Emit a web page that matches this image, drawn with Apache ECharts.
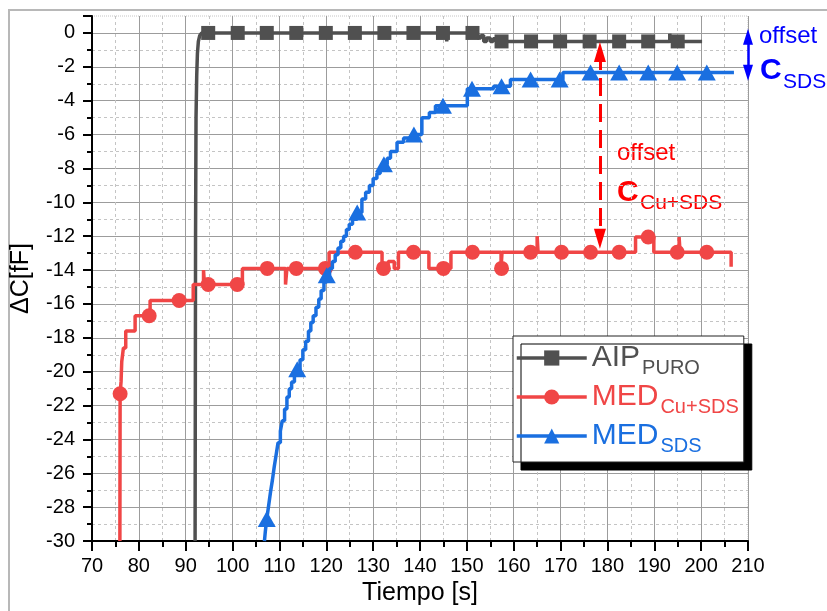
<!DOCTYPE html>
<html><head><meta charset="utf-8">
<script src="https://cdn.jsdelivr.net/npm/echarts@6/dist/echarts.min.js"></script>
<style>html,body{margin:0;padding:0;background:#fff}#c{width:827px;height:611px}</style>
</head><body><div id="c"></div>
<script>
// ---- axes ----
const xMin = 70, xMax = 210, xStep = 10;
const yMin = -30, yMax = 1, yStep = 2;
const xName = 'Tiempo [s]';
const yName = 'ΔC[fF]';

// ---- series: AIP PURO (gray) ----
const aipCurve = [[92.0,-30],[92.1,-12],[92.2,-5],[92.35,-2.5],[92.5,-1.2],[92.7,-0.5],[93.0,-0.15],[93.4,0],
  [145.7,-0.5],[145.9,0],[150.5,-0.2],[151.8,0],[152.3,-0.3],[153.0,-0.15],[153.6,-0.5],[154.2,-0.3],
  [155.0,-0.5],[155.6,-0.35],[156.2,-0.5],[193.3,-0.05],[193.5,-0.5],[200.2,-0.5]];
const aipMarks = [[94.8,0],[101.1,0],[107.3,0],[113.6,0],[119.9,0],[126.1,0],[132.4,0],[138.6,0],[144.9,0],
  [151.2,0],[157.4,-0.5],[163.7,-0.5],[169.9,-0.5],[176.2,-0.5],[182.5,-0.5],[188.7,-0.5],[195.0,-0.5]];

// ---- series: MED Cu+SDS (red) ----
const cuCurve = [[75.95,-30],[76.0,-21.3],[76.2,-20.6],[76.35,-19.4],[76.7,-18.6],[77.2,-17.6],[79.2,-16.7],
  [82.4,-15.8],[91.6,-14.85],[93.8,-14.0],[94.0,-14.85],[102.1,-13.9],[111.3,-14.85],[111.6,-13.9],
  [120.6,-12.95],[131.9,-13.9],[133.2,-13.5],[134.5,-13.9],[135.4,-12.95],[141.9,-13.9],[146.6,-12.95],
  [157.3,-13.9],[157.5,-12.95],[165.0,-12.0],[165.2,-12.95],[186.0,-12.05],[189.9,-12.95],
  [195.3,-12.05],[195.5,-12.95],[206.4,-13.8]];
const cuMarks = [[76.0,-21.3],[82.2,-16.7],[88.6,-15.8],[94.8,-14.85],[101.0,-14.85],[107.4,-13.9],[113.6,-13.9],
  [119.8,-13.9],[126.2,-12.95],[132.2,-13.9],[138.6,-12.95],[145.0,-13.9],[151.2,-12.95],[157.4,-13.9],
  [163.6,-12.95],[170.2,-12.95],[176.4,-12.95],[182.5,-12.95],[188.7,-12.05],[194.9,-12.95],[201.2,-12.95]];

// ---- series: MED SDS (blue) ----
const sdsCurve = [[106.8,-30],[107.0,-29.4],[107.3,-28.7],[107.7,-27.9],[108.1,-27.1],[108.5,-26.4],[108.9,-25.6],
  [109.3,-24.9],[109.7,-24.2],[110.2,-23.5],[110.6,-22.9],[111.1,-22.2],[111.6,-21.5],[112.1,-21.0],
  [112.6,-20.6],[113.2,-20.2],[113.8,-19.85],[114.4,-19.3],[115.0,-18.7],[115.6,-18.2],[116.2,-17.6],
  [116.7,-17.1],[117.2,-16.7],[117.8,-16.2],[118.4,-15.7],[118.9,-15.2],[119.5,-14.7],[120.1,-14.3],
  [120.7,-13.9],[121.3,-13.5],[121.9,-13.1],[122.5,-12.7],[123.1,-12.3],[123.7,-12.0],[124.3,-11.6],
  [124.9,-11.3],[125.6,-11.0],[126.6,-10.6],[127.6,-9.8],[128.4,-9.4],[129.2,-9.0],[130.0,-8.6],
  [130.8,-8.3],[131.5,-8.0],[132.3,-7.75],[133.0,-7.4],[133.7,-7.0],[135.1,-6.45],[136.5,-6.2],
  [138.7,-6.0],[140.4,-5.0],[142.0,-4.7],[143.3,-4.3],[150.1,-3.3],[155.7,-3.15],[159.3,-2.75],
  [170.5,-2.33],[207.0,-2.33]];
const sdsMarks = [[107.3,-28.7],[113.8,-19.85],[120.1,-14.3],[126.6,-10.6],[132.3,-7.75],[138.7,-6.0],
  [144.9,-4.3],[151.1,-3.3],[157.4,-3.15],[163.6,-2.75],[169.8,-2.75],[176.4,-2.33],[182.5,-2.33],
  [188.7,-2.33],[194.9,-2.33],[201.2,-2.33]];

// ---- annotations (offset arrows) ----
const sdsOffsetArrow = [[210, -0.23], [210, -2.35]];
const cuOffsetArrow = [[178.4, -1.12], [178.4, -12.15]];

const GRAY = '#505050', RED = '#f04646', BLUE = '#1a6fe0';
const FONT = '"Liberation Sans", Arial, sans-serif';

const chart = echarts.init(document.getElementById('c'), null, {renderer: 'canvas'});

function axisCommon() {
  return {
    axisLine: {show: true, onZero: false, lineStyle: {color: '#000', width: 2}},
    axisTick: {show: true, lineStyle: {color: '#000', width: 2}},
    minorTick: {show: true, splitNumber: 2, lineStyle: {color: '#000', width: 2}},
    splitLine: {show: true, lineStyle: {color: '#9c9c9c', width: 1}},
    minorSplitLine: {show: true, lineStyle: {color: '#c4c4c4', width: 1, type: [3, 3]}},
    nameTextStyle: {fontSize: 25, color: '#000', fontFamily: FONT}
  };
}

const xA = Object.assign(axisCommon(), {
  type: 'value', min: xMin, max: xMax, interval: xStep,
  name: xName, nameLocation: 'middle', nameGap: 39,
  axisLabel: {fontSize: 20, color: '#000', fontFamily: FONT, margin: 15}
});
xA.axisTick.length = 10; xA.minorTick.length = 6;

const yA = Object.assign(axisCommon(), {
  type: 'value', min: yMin, max: yMax, interval: yStep,
  name: yName, nameLocation: 'middle', nameGap: 58, nameRotate: 90,
  axisLabel: {fontSize: 20, color: '#000', fontFamily: FONT, margin: 17, showMaxLabel: false}
});
yA.axisTick.length = 9; yA.minorTick.length = 5;
yA.splitLine.showMaxLine = false;

const legendNames = ['AIP_PURO', 'MED_Cu+SDS', 'MED_SDS'];
const legendText = {
  'AIP_PURO': '{ga|AIP}{gb|PURO}',
  'MED_Cu+SDS': '{ra|MED}{rb|Cu+SDS}',
  'MED_SDS': '{ba|MED}{bb|SDS}'
};
function bigStyle(c) { return {fontSize: 30, color: c, fontFamily: FONT}; }
function subStyle(c) { return {fontSize: 20, color: c, fontFamily: FONT, padding: [20, 0, 0, 2]}; }

function lineSeries(name, data, color, sym, z, extra) {
  return Object.assign({
    name: name, type: 'line', step: 'end', data: data, symbol: sym, showSymbol: false,
    lineStyle: {color: color, width: 3.5}, itemStyle: {color: color}, z: z, animation: false,
    emphasis: {disabled: true}
  }, extra || {});
}
function markSeries(name, data, color, sym, size, z) {
  return {name: name, type: 'scatter', data: data, symbol: sym, symbolSize: size,
    itemStyle: {color: color, opacity: 1}, z: z, animation: false, emphasis: {disabled: true}};
}

const option = {
  backgroundColor: '#fff',
  animation: false,
  grid: {left: 92, right: 79, top: 16, bottom: 67, show: true, borderColor: '#c4c4c4', borderWidth: 1, borderType: 'dotted', backgroundColor: 'transparent'},
  xAxis: xA,
  yAxis: yA,
  legend: {
    orient: 'vertical', left: 513, top: 336, itemWidth: 70, itemHeight: 19, itemGap: 4,
    padding: [7, 5, 6, 2], backgroundColor: '#fff', borderColor: '#222', borderWidth: 1,
    shadowColor: '#000', shadowBlur: 0, shadowOffsetX: 8, shadowOffsetY: 8,
    lineStyle: {width: 3.5},
    data: legendNames, selectedMode: false,
    formatter: function (n) { return legendText[n]; },
    textStyle: {rich: {
      ga: bigStyle(GRAY), gb: subStyle(GRAY),
      ra: bigStyle(RED), rb: subStyle(RED),
      ba: bigStyle(BLUE), bb: subStyle(BLUE)
    }}
  },
  series: [
    lineSeries('AIP_PURO', aipCurve, GRAY, 'rect', 2),
    markSeries('aipMarks', aipMarks, GRAY, 'rect', 14, 3),
    lineSeries('MED_Cu+SDS', cuCurve, RED, 'circle', 4, {
      markLine: {silent: true, symbol: ['triangle', 'triangle'], symbolSize: [12, 20], z: 10, animation: false,
        label: {show: false}, emphasis: {disabled: true},
        lineStyle: {color: '#ff0000', width: 3, type: [18, 8]},
        itemStyle: {color: '#ff0000'},
        data: [[{coord: cuOffsetArrow[0]}, {coord: cuOffsetArrow[1]}]]}
    }),
    markSeries('cuMarks', cuMarks, RED, 'circle', 15, 5),
    lineSeries('MED_SDS', sdsCurve, BLUE, 'triangle', 6, {
      markLine: {silent: true, symbol: ['triangle', 'triangle'], symbolSize: [10, 16], z: 10, animation: false,
        label: {show: false}, emphasis: {disabled: true},
        lineStyle: {color: '#0000ff', width: 2.5, type: 'solid'},
        itemStyle: {color: '#0000ff'},
        data: [[{coord: sdsOffsetArrow[0]}, {coord: sdsOffsetArrow[1]}]]}
    }),
    markSeries('sdsMarks', sdsMarks, BLUE, 'triangle', [18, 16], 7)
  ],
  graphic: [
    {type: 'rect', silent: true, z: -10, shape: {x: 9, y: 10, width: 860, height: 640},
      style: {fill: 'none', stroke: '#b8b8b8', lineWidth: 2}},
    {type: 'text', silent: true, x: 759, y: 36.6, style: {text: 'offset', fill: '#0000ff', font: '24px ' + FONT, align: 'left', verticalAlign: 'middle'}},
    {type: 'text', silent: true, x: 760, y: 70.6, style: {text: 'C', fill: '#0000ff', font: 'bold 30px ' + FONT, align: 'left', verticalAlign: 'middle'}},
    {type: 'text', silent: true, x: 783, y: 82.7, style: {text: 'SDS', fill: '#0000ff', font: '21px ' + FONT, align: 'left', verticalAlign: 'middle'}},
    {type: 'text', silent: true, x: 617, y: 153.6, style: {text: 'offset', fill: '#ff0000', font: '24px ' + FONT, align: 'left', verticalAlign: 'middle'}},
    {type: 'text', silent: true, x: 617, y: 192.3, style: {text: 'C', fill: '#ff0000', font: 'bold 30px ' + FONT, align: 'left', verticalAlign: 'middle'}},
    {type: 'text', silent: true, x: 640, y: 203.4, style: {text: 'Cu+SDS', fill: '#ff0000', font: '21px ' + FONT, align: 'left', verticalAlign: 'middle'}}
  ]
};
chart.setOption(option);
</script></body></html>
